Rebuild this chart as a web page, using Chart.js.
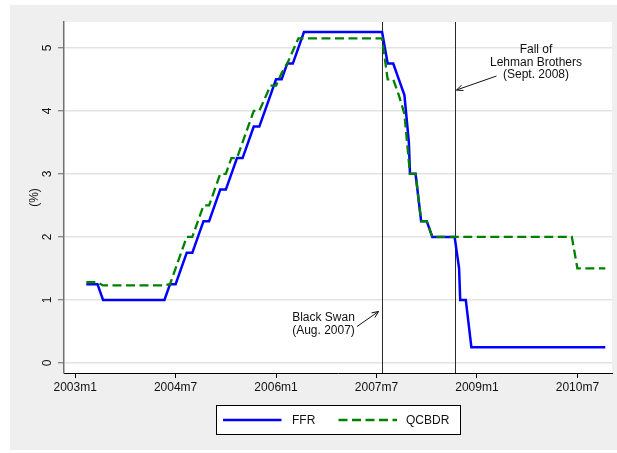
<!DOCTYPE html>
<html>
<head>
<meta charset="utf-8">
<script src="https://cdn.jsdelivr.net/npm/chart.js@4.4.1/dist/chart.umd.min.js"></script>
<style>
html, body { margin: 0; padding: 0; background: #ffffff; }
#wrap { width: 617px; height: 453px; }
</style>
</head>
<body>
<div id="wrap"><canvas id="c" width="617" height="453"></canvas></div>
<script>
// ---- data (x = months since 2003m1) ----
const tickMonths = [0, 18, 36, 54, 72, 90];
const tickLabels = ['2003m1', '2004m7', '2006m1', '2007m7', '2009m1', '2010m7'];
const yTicks = [0, 1, 2, 3, 4, 5];
const seriesNames = ['FFR', 'QCBDR'];

const ffrMonths = [2, 3, 4, 5, 6, 7, 8, 9, 10, 11, 12, 13, 14, 15, 16, 17, 18, 19, 20, 21,
  22, 23, 24, 25, 26, 27, 28, 29, 30, 31, 32, 33, 34, 35, 36, 37, 38, 39, 40, 41,
  42, 43, 44, 45, 46, 47, 48, 49, 50, 51, 52, 53, 54, 55, 56, 57, 58, 59, 59.8, 60,
  61, 62, 63, 64, 65, 66, 67, 68, 68.8, 69, 70, 71, 72, 73, 74, 75, 76, 77, 78, 79,
  80, 81, 82, 83, 84, 85, 86, 87, 88, 89, 90, 91, 92, 93, 94, 95];
const ffrValues = [1.25, 1.25, 1.25, 1.00, 1.00, 1.00, 1.00, 1.00, 1.00, 1.00, 1.00, 1.00, 1.00, 1.00, 1.00, 1.25, 1.25, 1.50, 1.75, 1.75,
  2.00, 2.25, 2.25, 2.50, 2.75, 2.75, 3.00, 3.25, 3.25, 3.50, 3.75, 3.75, 4.00, 4.25, 4.50, 4.50, 4.75, 4.75, 5.00, 5.25,
  5.25, 5.25, 5.25, 5.25, 5.25, 5.25, 5.25, 5.25, 5.25, 5.25, 5.25, 5.25, 5.25, 5.25, 4.75, 4.75, 4.50, 4.25, 3.50, 3.00,
  3.00, 2.25, 2.25, 2.00, 2.00, 2.00, 2.00, 2.00, 1.50, 1.00, 1.00, 0.25, 0.25, 0.25, 0.25, 0.25, 0.25, 0.25, 0.25, 0.25,
  0.25, 0.25, 0.25, 0.25, 0.25, 0.25, 0.25, 0.25, 0.25, 0.25, 0.25, 0.25, 0.25, 0.25, 0.25, 0.25];

const qcbdrMonths = [2, 3, 4, 5, 6, 7, 8, 9, 10, 11, 12, 13, 14, 15, 16, 17, 18, 19, 20, 21,
  22, 23, 24, 25, 26, 27, 28, 29, 30, 31, 32, 33, 34, 35, 36, 37, 38, 39, 40, 41,
  42, 43, 44, 45, 46, 47, 48, 49, 50, 51, 52, 53, 54, 55, 56, 57, 58, 59, 60, 61,
  62, 63, 64, 65, 66, 67, 68, 69, 70, 71, 72, 73, 74, 75, 76, 77, 78, 79, 80, 81,
  82, 83, 84, 85, 86, 87, 88, 89, 90, 91, 92, 93, 94, 95];
const qcbdrValues = [1.28, 1.28, 1.28, 1.23, 1.23, 1.23, 1.23, 1.23, 1.23, 1.23, 1.23, 1.23, 1.23, 1.23, 1.23, 1.25, 1.50, 1.75, 2.00, 2.00,
  2.25, 2.50, 2.50, 2.75, 3.00, 3.00, 3.25, 3.25, 3.50, 3.75, 4.00, 4.00, 4.20, 4.40, 4.40, 4.60, 4.75, 4.95, 5.15, 5.15,
  5.15, 5.15, 5.15, 5.15, 5.15, 5.15, 5.15, 5.15, 5.15, 5.15, 5.15, 5.15, 5.15, 5.15, 4.50, 4.50, 4.25, 3.95, 3.00, 3.00,
  2.25, 2.25, 2.00, 2.00, 2.00, 2.00, 2.00, 2.00, 2.00, 2.00, 2.00, 2.00, 2.00, 2.00, 2.00, 2.00, 2.00, 2.00, 2.00, 2.00,
  2.00, 2.00, 2.00, 2.00, 2.00, 2.00, 2.00, 2.00, 1.50, 1.50, 1.50, 1.50, 1.50, 1.50];

const eventMonths = [55, 68]; // 2007m8, 2008m9
const blackSwanText = ['Black Swan', '(Aug. 2007)'];
const lehmanText = ['Fall of', 'Lehman Brothers', '(Sept. 2008)'];

// ---- styling ----
const FONT = "'Liberation Sans', Arial, Helvetica, sans-serif";
const TEXT = '#111111';
const BLUE = '#0000ff';
const GREEN = '#008000';
const GREEN_DASH = [9, 4.5];
Chart.defaults.font.family = FONT;
Chart.defaults.font.size = 12;
Chart.defaults.color = TEXT;

function drawArrow(ctx, x1, y1, x2, y2) {
  const ang = Math.atan2(y2 - y1, x2 - x1);
  const len = 7, spread = 0.42;
  ctx.beginPath();
  ctx.moveTo(x1, y1);
  ctx.lineTo(x2, y2);
  ctx.moveTo(x2 - len * Math.cos(ang - spread), y2 - len * Math.sin(ang - spread));
  ctx.lineTo(x2, y2);
  ctx.lineTo(x2 - len * Math.cos(ang + spread), y2 - len * Math.sin(ang + spread));
  ctx.stroke();
}

const backgroundPlugin = {
  id: 'stataBackground',
  beforeDraw(chart) {
    const { ctx, chartArea: a } = chart;
    ctx.save();
    ctx.fillStyle = '#ffffff';
    ctx.fillRect(0, 0, chart.width, chart.height);
    ctx.fillStyle = '#efefef';
    ctx.fillRect(10, 5, chart.width - 10, 445);
    ctx.fillStyle = '#ffffff';
    ctx.fillRect(a.left, a.top, a.right - a.left, a.bottom - a.top);
    ctx.restore();
  }
};

const eventLinePlugin = {
  id: 'eventLines',
  beforeDatasetsDraw(chart) {
    const { ctx, chartArea: a, scales: { x } } = chart;
    ctx.save();
    ctx.strokeStyle = '#2a2a2a';
    ctx.lineWidth = 1;
    eventMonths.forEach(m => {
      const px = Math.round(x.getPixelForValue(m)) + 0.5;
      ctx.beginPath();
      ctx.moveTo(px, a.top);
      ctx.lineTo(px, a.bottom);
      ctx.stroke();
    });
    ctx.restore();
  }
};

const annotationPlugin = {
  id: 'annotations',
  afterDatasetsDraw(chart) {
    const { ctx } = chart;
    ctx.save();
    ctx.font = '12px ' + FONT;
    ctx.fillStyle = TEXT;
    ctx.textAlign = 'center';
    ctx.textBaseline = 'middle';
    blackSwanText.forEach((t, i) => ctx.fillText(t, 323.5, 318 + i * 13));
    lehmanText.forEach((t, i) => ctx.fillText(t, 536, 50 + i * 12.5));
    ctx.strokeStyle = '#111111';
    ctx.lineWidth = 1;
    drawArrow(ctx, 357, 326.5, 378.5, 311.5);
    drawArrow(ctx, 496.5, 76, 456.5, 90);
    ctx.restore();
  }
};

const legendPlugin = {
  id: 'boxLegend',
  afterDraw(chart) {
    const { ctx, chartArea: a } = chart;
    const cx = (a.left + a.right) / 2;
    const bx = Math.round(cx - 122) + 0.5;
    const by = 405.5, bw = 244, bh = 29;
    const ly = by + bh / 2;
    ctx.save();
    ctx.fillStyle = '#ffffff';
    ctx.fillRect(bx, by, bw, bh);
    ctx.strokeStyle = '#000000';
    ctx.lineWidth = 1;
    ctx.strokeRect(bx, by, bw, bh);
    const items = [
      { x: bx + 6.5, color: BLUE, dash: [], width: 2.5, text: seriesNames[0], tx: bx + 75.5 },
      { x: bx + 122, color: GREEN, dash: GREEN_DASH, width: 2.3, text: seriesNames[1], tx: bx + 189.5 }
    ];
    items.forEach(it => {
      ctx.beginPath();
      ctx.setLineDash(it.dash);
      ctx.strokeStyle = it.color;
      ctx.lineWidth = it.width;
      ctx.moveTo(it.x, ly);
      ctx.lineTo(it.x + 58.5, ly);
      ctx.stroke();
      ctx.setLineDash([]);
      ctx.fillStyle = TEXT;
      ctx.font = '12px ' + FONT;
      ctx.textAlign = 'left';
      ctx.textBaseline = 'middle';
      ctx.fillText(it.text, it.tx, ly + 0.5);
    });
    ctx.restore();
  }
};

const toPoints = (xs, ys) => xs.map((m, i) => ({ x: m, y: ys[i] }));

new Chart(document.getElementById('c'), {
  type: 'line',
  data: {
    datasets: [
      {
        label: seriesNames[0],
        data: toPoints(ffrMonths, ffrValues),
        borderColor: BLUE,
        backgroundColor: BLUE,
        borderWidth: 2.5,
        pointRadius: 0,
        tension: 0,
        fill: false,
        order: 1
      },
      {
        label: seriesNames[1],
        data: toPoints(qcbdrMonths, qcbdrValues),
        borderColor: GREEN,
        backgroundColor: GREEN,
        borderWidth: 2.3,
        borderDash: GREEN_DASH,
        pointRadius: 0,
        tension: 0,
        fill: false,
        order: 0
      }
    ]
  },
  options: {
    responsive: false,
    animation: false,
    devicePixelRatio: 1,
    layout: { padding: { left: 10, right: 5, top: 22, bottom: 58 } },
    plugins: {
      legend: { display: false },
      tooltip: { enabled: false }
    },
    scales: {
      x: {
        type: 'linear',
        min: -2,
        max: 96.2,
        afterBuildTicks: s => { s.ticks = tickMonths.map(v => ({ value: v })); },
        afterFit: s => { s.height = 22; },
        ticks: {
          autoSkip: false,
          maxRotation: 0,
          minRotation: 0,
          padding: 2,
          color: TEXT,
          font: { size: 12 },
          callback: (v, i) => tickLabels[i]
        },
        grid: { drawOnChartArea: false, drawTicks: true, tickLength: 5, tickColor: '#000000', tickWidth: 1 },
        border: { display: true, color: '#000000', width: 1 }
      },
      y: {
        type: 'linear',
        min: -0.16,
        max: 5.41,
        afterBuildTicks: s => { s.ticks = yTicks.map(v => ({ value: v })); },
        afterFit: s => { s.width = 54; },
        ticks: {
          minRotation: 90,
          maxRotation: 90,
          crossAlign: 'center',
          padding: 7,
          color: TEXT,
          font: { size: 12 },
          callback: v => String(v)
        },
        grid: { color: '#e3e3e3', lineWidth: 1.5, drawTicks: true, tickLength: 6, tickColor: '#666666', tickWidth: 1 },
        border: { display: true, color: '#707070', width: 1.5 },
        title: { display: true, text: '(%)', color: TEXT, font: { size: 12 }, padding: { top: 17, bottom: 0 } }
      }
    }
  },
  plugins: [backgroundPlugin, eventLinePlugin, annotationPlugin, legendPlugin]
});
</script>
</body>
</html>
